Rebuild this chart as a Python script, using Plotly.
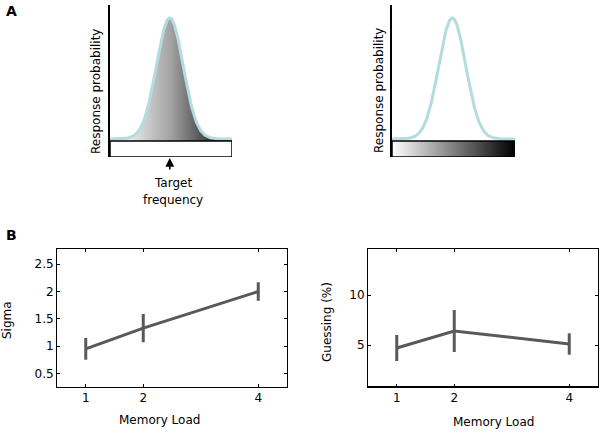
import numpy as np
import plotly.graph_objects as go

# ---------------- data ----------------
memory_load = [1, 2, 4]
sigma_mean = [0.95, 1.33, 2.0]
sigma_err = [0.2, 0.26, 0.17]
guess_mean = [4.7, 6.4, 5.1]
guess_err = [1.3, 2.1, 1.07]

# schematic response distribution (panel A)
curve_mu = 0.49
curve_sd = 0.11
curve_base = 0.118
curve_peak = 0.914
bar_top = 0.105

sigma_ticks = [0.5, 1, 1.5, 2, 2.5]
sigma_ticklabels = ["0.5", "1", "1.5", "2", "2.5"]
guess_ticks = [5, 10]
guess_ticklabels = ["5", "10"]

W, H = 601, 433
FONT = "DejaVu Sans"
GRAY = "#595959"
CURVE = "#b3dbe0"


def px(x):
    return x / W


def py(y):
    return 1 - y / H


xs = np.linspace(0, 1, 300)
ys = curve_base + (curve_peak - curve_base) * np.exp(-((xs - curve_mu) ** 2) / (2 * curve_sd ** 2))

fig = go.Figure()

# ---- top-left: filled gradient curve ----
fig.add_trace(go.Scatter(
    x=list(xs) + [1, 0], y=list(ys) + [bar_top, bar_top],
    fill="toself", mode="lines", line=dict(width=0),
    fillgradient=dict(type="horizontal", start=0.15, stop=0.85,
                      colorscale=[[0, "#ececec"], [0.5, "#a2a2a2"], [1, "#333333"]]),
    xaxis="x", yaxis="y", hoverinfo="skip", showlegend=False))
fig.add_trace(go.Scatter(x=xs, y=ys, mode="lines", line=dict(color=CURVE, width=3),
                         xaxis="x", yaxis="y", showlegend=False))
fig.add_trace(go.Scatter(x=[0, 1, 1, 0, 0], y=[0, 0, bar_top, bar_top, 0], fill="toself",
                         fillcolor="white", mode="lines", line=dict(color="black", width=1.5),
                         xaxis="x", yaxis="y", showlegend=False))

# ---- top-right: curve + gradient bar ----
fig.add_trace(go.Scatter(x=xs, y=ys, mode="lines", line=dict(color=CURVE, width=3),
                         xaxis="x2", yaxis="y2", showlegend=False))
fig.add_trace(go.Scatter(x=[0, 1, 1, 0, 0], y=[0, 0, bar_top, bar_top, 0], fill="toself",
                         fillgradient=dict(type="horizontal", start=0, stop=1,
                                           colorscale=[[0, "#ffffff"], [1, "#000000"]]),
                         mode="lines", line=dict(color="black", width=1.5),
                         xaxis="x2", yaxis="y2", showlegend=False))

# ---- bottom panels ----
fig.add_trace(go.Scatter(x=memory_load, y=sigma_mean, mode="lines",
                         line=dict(color=GRAY, width=3),
                         error_y=dict(type="data", array=sigma_err, thickness=3, width=0, color=GRAY),
                         xaxis="x3", yaxis="y3", showlegend=False))
fig.add_trace(go.Scatter(x=memory_load, y=guess_mean, mode="lines",
                         line=dict(color=GRAY, width=3),
                         error_y=dict(type="data", array=guess_err, thickness=3, width=0, color=GRAY),
                         xaxis="x4", yaxis="y4", showlegend=False))

hidden = dict(visible=False, range=[0, 1], fixedrange=True)
yline = dict(range=[0, 1], showline=True, linecolor="black", linewidth=1.5,
             showticklabels=False, ticks="", showgrid=False, zeroline=False)

box_x = dict(range=[0.5, 4.5], tickvals=memory_load, ticktext=[str(v) for v in memory_load],
             showline=True, mirror="ticks", linecolor="black", linewidth=1,
             ticks="inside", ticklen=3, tickcolor="black", showgrid=False, zeroline=False,
             tickfont=dict(family=FONT, size=12, color="black"))
box_y = dict(showline=True, mirror="ticks", linecolor="black", linewidth=1,
             ticks="inside", ticklen=3, tickcolor="black", showgrid=False, zeroline=False,
             tickfont=dict(family=FONT, size=12, color="black"))

fig.update_layout(
    width=W, height=H, margin=dict(l=0, r=0, t=0, b=0),
    paper_bgcolor="white", plot_bgcolor="rgba(0,0,0,0)",
    font=dict(family=FONT, size=12, color="black"),
    xaxis=dict(hidden, domain=[px(110), px(232)], anchor="y"),
    yaxis=dict(yline, domain=[py(157), py(5)], anchor="x"),
    xaxis2=dict(hidden, domain=[px(392), px(515)], anchor="y2"),
    yaxis2=dict(yline, domain=[py(157), py(5)], anchor="x2"),
    xaxis3=dict(box_x, domain=[px(57), px(287)], anchor="y3"),
    yaxis3=dict(box_y, domain=[py(387), py(249)], anchor="x3", range=[0.25, 2.78],
                tickvals=sigma_ticks, ticktext=sigma_ticklabels),
    xaxis4=dict(box_x, domain=[px(368), px(598)], anchor="y4"),
    yaxis4=dict(box_y, domain=[py(387), py(249)], anchor="x4", range=[0.8, 14.6],
                tickvals=guess_ticks, ticktext=guess_ticklabels),
)

# thicker bottom axis line on the right-hand panel
fig.add_shape(type="line", xref="x4 domain", yref="y4 domain", x0=0, x1=1, y0=0, y1=0,
              line=dict(color="black", width=2))

ann = []


def txt(x, y, s, size=12, angle=0, bold=False, xanchor="center"):
    ann.append(dict(x=px(x), y=py(y), xref="paper", yref="paper", text=f"<b>{s}</b>" if bold else s,
                    showarrow=False, textangle=angle, xanchor=xanchor, yanchor="middle",
                    font=dict(family=FONT, size=size, color="black")))


txt(4, 11, "A", size=14, bold=True, xanchor="left")
txt(4, 235, "B", size=14, bold=True, xanchor="left")
txt(96, 92, "Response probability", angle=-90)
txt(379, 91, "Response probability", angle=-90)
txt(173, 183, "Target")
txt(173, 200, "frequency")
txt(159, 420, "Memory Load")
txt(493, 422, "Memory Load")
txt(7, 320, "Sigma", angle=-90)
txt(327, 322, "Guessing (%)", angle=-90)

# arrow under target frequency
ann.append(dict(x=curve_mu, y=py(158), xref="x", yref="paper", ax=0, ay=13, axref="pixel",
                showarrow=True, arrowhead=2, arrowsize=1.1, arrowwidth=1.6, arrowcolor="black", text=""))

fig.update_layout(annotations=ann)
fig.write_html("out.html", config={"displayModeBar": False},
               post_script="document.body.style.margin='0px';document.body.style.overflow='hidden';")
